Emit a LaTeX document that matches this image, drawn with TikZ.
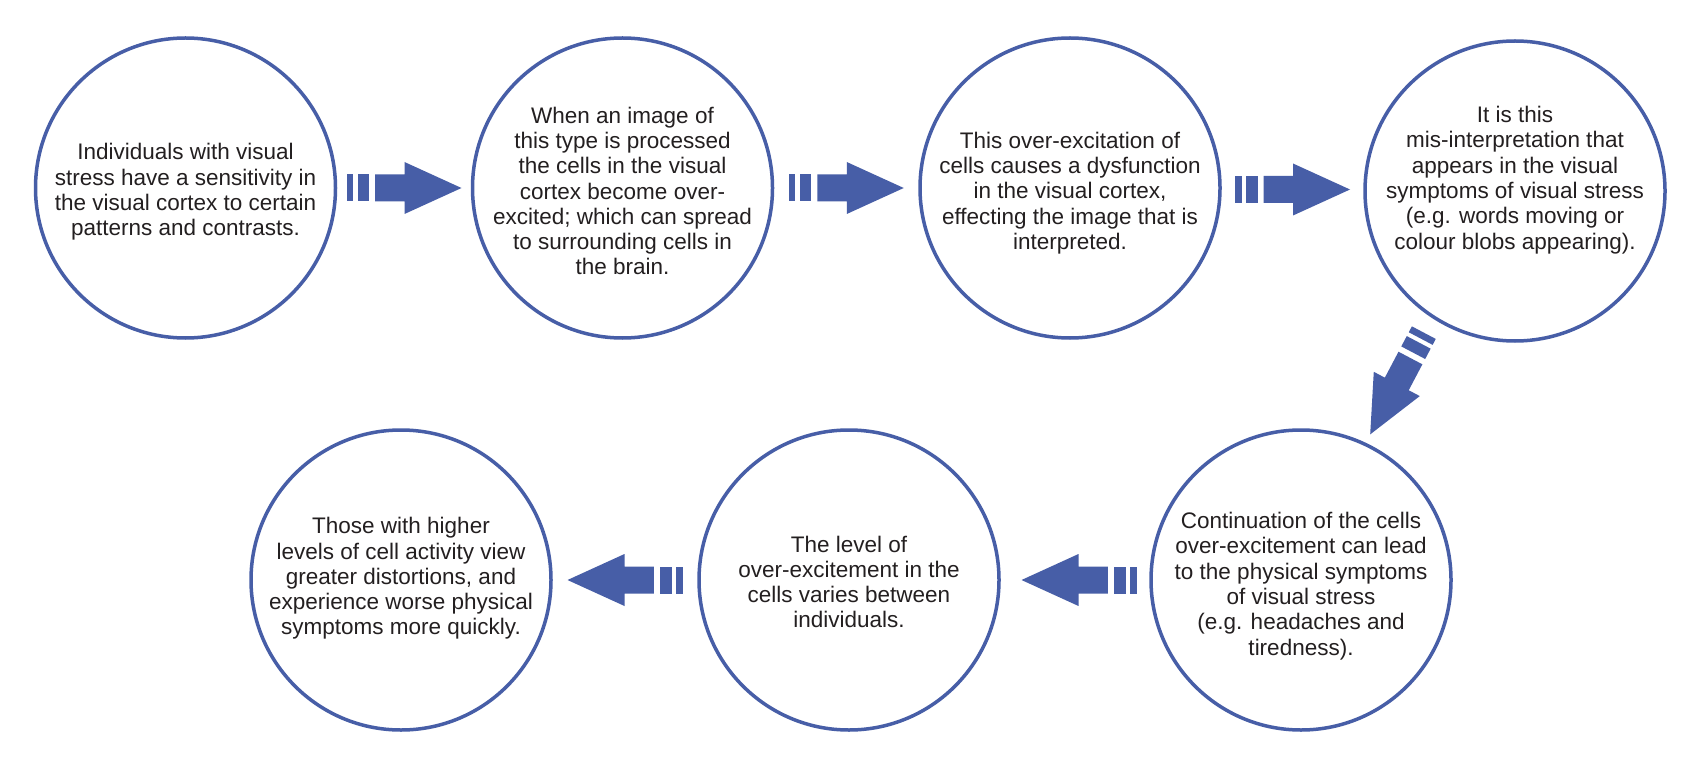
\documentclass[tikz,border=0pt]{standalone}
\usepackage{fontspec}
\setmainfont{Liberation Sans}
\usetikzlibrary{calc}
\definecolor{sblue}{RGB}{71,94,167}
\definecolor{stext}{RGB}{35,31,32}
\tikzset{
  stage/.style={circle, draw=sblue, line width=3.5pt, minimum size=300pt, inner sep=0pt, fill=white},
  stagetext/.style={align=center, text=stext, font=\fontsize{22.5}{25.3}\selectfont, inner sep=0pt},
  stripearrow/.pic={
    \fill[sblue] (-57.5,-13.5) rectangle (-50.8,13.5);
    \fill[sblue] (-46.5,-13.5) rectangle (-34.8,13.5);
    \fill[sblue] (-28.8,-13.5) -- (0.5,-13.5) -- (0.5,-26) -- (57.5,0) -- (0.5,26) -- (0.5,13.5) -- (-28.8,13.5) -- cycle;
  }
}
\begin{document}
\begin{tikzpicture}[x=1pt,y=1pt]
\useasboundingbox[fill=white] (0,0) rectangle (1693,-767);

% circles
\node[stage] (c1) at (185.5,-188) {};
\node[stage] (c2) at (622.5,-188) {};
\node[stage] (c3) at (1070,-188) {};
\node[stage] (c4) at (1515,-191) {};
\node[stage] (c5) at (1301,-580) {};
\node[stage] (c6) at (849,-580) {};
\node[stage] (c7) at (401,-580) {};

% texts
\node[stagetext] (t1) at ($(c1)+(0,-4)$) {Individuals with visual\\stress have a sensitivity in\\the visual cortex to certain\\patterns and contrasts.};
\node[stagetext] (t2) at ($(c2)+(0,-3)$) {When an image of\\this type is processed\\the cells in the visual\\cortex become over-\\excited; which can spread\\to surrounding cells in\\the brain.};
\node[stagetext] (t3) at ($(c3)+(0,-5)$) {This over-excitation of\\cells causes a dysfunction\\in the visual cortex,\\effecting the image that is\\interpreted.};
\node[stagetext] (t4) at ($(c4)+(0,11)$) {It is this\\mis-interpretation that\\appears in the visual\\symptoms of visual stress\\(e.g. words moving or\\colour blobs appearing).};
\node[stagetext] (t5) at ($(c5)+(0,-6)$) {Continuation of the cells\\over-excitement can lead\\to the physical symptoms\\of visual stress\\(e.g. headaches and\\tiredness).};
\node[stagetext] (t6) at ($(c6)+(0,-2)$) {The level of\\over-excitement in the\\cells varies between\\individuals.};
\node[stagetext] (t7) at ($(c7)+(0,1.5)$) {Those with higher\\levels of cell activity view\\greater distortions, and\\experience worse physical\\symptoms more quickly.};

% arrows
\pic at ($(c1.east)!0.5!(c2.west)$) {stripearrow};
\pic at ($(c2.east)!0.5!(c3.west)$) {stripearrow};
\pic at ($(c3.east)!0.5!(c4.west)$) {stripearrow};
\pic[rotate=242.2] at ($(c4)!0.5!(c5)+(-11,2)$) {stripearrow};
\pic[rotate=180] at ($(c6.east)!0.5!(c5.west)+(4,0)$) {stripearrow};
\pic[rotate=180] at ($(c7.east)!0.5!(c6.west)$) {stripearrow};
\end{tikzpicture}
\end{document}
